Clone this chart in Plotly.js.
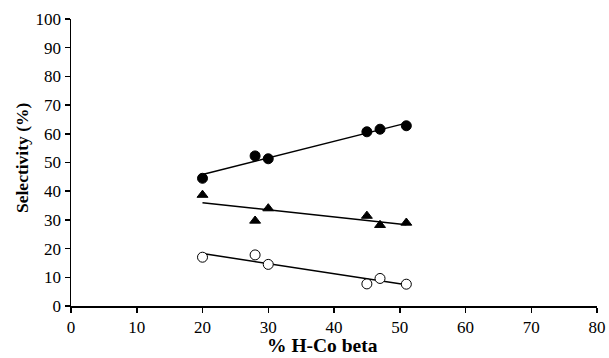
<!DOCTYPE html>
<html><head><meta charset="utf-8">
<script src="https://cdn.plot.ly/plotly-3.0.1.min.js"></script>
<style>html,body{margin:0;padding:0;background:#fff}#c{width:609px;height:358px}</style>
</head><body><div id="c"></div>
<script>
const xVals = [20, 28, 30, 45, 47, 51];
const filledCircle = [44.5, 52.3, 51.3, 60.7, 61.6, 62.8];
const triangle = [38.7, 29.7, 34.0, 31.4, 28.2, 29.0];
const openCircle = [17.0, 17.8, 14.5, 7.7, 9.6, 7.6];
const xTicks = [0,10,20,30,40,50,60,70,80];
const yTicks = [0,10,20,30,40,50,60,70,80,90,100];
const xTitle = '% H-Co beta';
const yTitle = 'Selectivity (%)';

function fit(x, y) {
  const n = x.length;
  const mx = x.reduce((a,b)=>a+b,0)/n, my = y.reduce((a,b)=>a+b,0)/n;
  let sxx=0, sxy=0;
  for (let i=0;i<n;i++){sxx+=(x[i]-mx)**2; sxy+=(x[i]-mx)*(y[i]-my);}
  const m = sxy/sxx, b = my - m*mx;
  const x0 = Math.min(...x), x1 = Math.max(...x);
  return {x:[x0,x1], y:[m*x0+b, m*x1+b]};
}
const traces = [];
[[filledCircle,'circle','#000',10],[triangle,'triangle-up','#000',9.5],[openCircle,'circle','#fff',10]].forEach(([ys,sym,fill,sz])=>{
  const f = fit(xVals, ys);
  traces.push({x:f.x, y:f.y, mode:'lines', line:{color:'#000', width:1.5}, showlegend:false, hoverinfo:'skip'});
  traces.push({x:xVals, y:ys, mode:'markers', showlegend:false,
    marker:{symbol:sym, size:sz, color:fill, line:{color:'#000', width:1}}});
});
const font = {family:'"Liberation Serif", "Times New Roman", serif', color:'#000'};
Plotly.newPlot('c', traces, {
  width:609, height:358,
  margin:{l:71, r:12, t:19, b:52},
  paper_bgcolor:'#fff', plot_bgcolor:'#fff',
  font: Object.assign({size:17}, font),
  xaxis:{range:[0,80], tickvals:xTicks, ticktext:xTicks.map(String), showgrid:false, zeroline:false,
    showline:true, linecolor:'#000', linewidth:1.5, ticks:'outside', ticklen:5, tickcolor:'#000', tickwidth:1.5,
    tickfont:Object.assign({size:17}, font)},
  yaxis:{range:[0,100], tickvals:yTicks, ticktext:yTicks.map(String), showgrid:false, zeroline:false,
    showline:true, linecolor:'#000', linewidth:1.5, ticks:'outside', ticklen:5, tickcolor:'#000', tickwidth:1.5,
    tickfont:Object.assign({size:17}, font)},
  annotations:[
    {text:'<b>'+xTitle+'</b>', xref:'paper', yref:'paper', x:0.479, y:-0.181, xanchor:'center', yanchor:'bottom',
     showarrow:false, font:Object.assign({size:19.5}, font)},
    {text:'<b>'+yTitle+'</b>', xref:'paper', yref:'paper', x:-0.093, y:0.516, xanchor:'center', yanchor:'middle',
     textangle:-90, showarrow:false, font:Object.assign({size:17.5}, font)}
  ]
}, {displayModeBar:false, staticPlot:true});
</script></body></html>
